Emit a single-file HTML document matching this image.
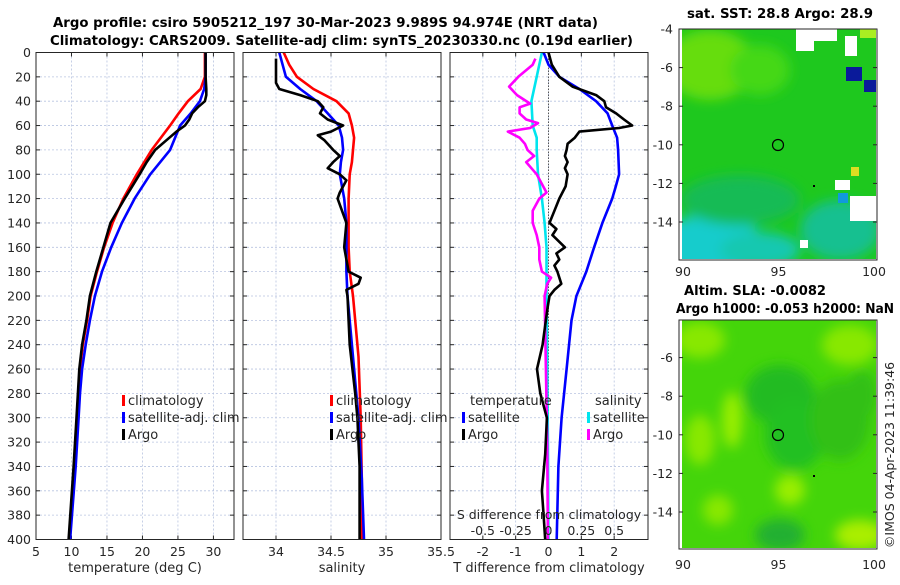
<!DOCTYPE html>
<html><head><meta charset="utf-8"><style>
body{margin:0;background:#fff;}
svg text{font-family:"DejaVu Sans","Liberation Sans",sans-serif;fill:#262626;}
</style></head><body>
<svg id="fig" width="900" height="580" viewBox="0 0 900 580" xmlns="http://www.w3.org/2000/svg">
<defs>
<filter id="blur6" x="-20%" y="-20%" width="140%" height="140%"><feGaussianBlur stdDeviation="6"/></filter>
<clipPath id="clipTop"><rect x="682" y="29" width="194" height="230"/></clipPath>
<clipPath id="clipBot"><rect x="682" y="320" width="194" height="228"/></clipPath>
</defs>
<g>
<text x="53" y="27" textLength="545" lengthAdjust="spacingAndGlyphs" font-size="13.5" font-weight="bold" style="fill:#000">Argo profile: csiro 5905212_197 30-Mar-2023 9.989S 94.974E (NRT data)</text>
<text x="50" y="45" textLength="583" lengthAdjust="spacingAndGlyphs" font-size="13.5" font-weight="bold" style="fill:#000">Climatology: CARS2009. Satellite-adj clim: synTS_20230330.nc (0.19d earlier)</text>
</g>
<g id="panels"></g>
<g>
<text x="687" y="18" textLength="186" lengthAdjust="spacingAndGlyphs" font-size="13" font-weight="bold" style="fill:#000">sat. SST: 28.8 Argo: 28.9</text>
<g clip-path="url(#clipTop)">
<rect x="682" y="29" width="194" height="230" fill="#1ec81e"/>
<g filter="url(#blur6)">
<ellipse cx="710" cy="65" rx="45" ry="35" fill="#66dd11"/>
<ellipse cx="760" cy="70" rx="30" ry="25" fill="#44d818"/>
<ellipse cx="710" cy="245" rx="55" ry="30" fill="#12cccc"/>
<ellipse cx="760" cy="250" rx="40" ry="18" fill="#14c8b0"/>
<ellipse cx="840" cy="230" rx="40" ry="30" fill="#18c090"/>
<ellipse cx="740" cy="200" rx="60" ry="25" fill="#18bb55"/>
</g>
<rect x="796" y="29" width="18" height="22" fill="#fff"/>
<rect x="812" y="29" width="25" height="12" fill="#fff"/>
<rect x="845" y="36" width="12" height="20" fill="#fff"/>
<rect x="860" y="29" width="16" height="9" fill="#aaee22"/>
<rect x="846" y="67" width="16" height="14" fill="#0a1a9a"/>
<rect x="864" y="80" width="12" height="12" fill="#0a1a9a"/>
<rect x="850" y="196" width="26" height="25" fill="#fff"/>
<rect x="835" y="180" width="15" height="10" fill="#fff"/>
<rect x="851" y="167" width="8" height="9" fill="#dddd22"/>
<rect x="838" y="193" width="10" height="10" fill="#1199dd"/>
<rect x="800" y="240" width="8" height="8" fill="#fff"/>
</g>
<rect x="679" y="29" width="198" height="231" fill="none" stroke="#262626" stroke-width="1"/>
<circle cx="778" cy="145" r="5.5" fill="none" stroke="#000" stroke-width="1.2"/>
<rect x="813" y="185" width="2" height="2" fill="#000"/>
</g>
<g>
<text x="684" y="295" textLength="142" lengthAdjust="spacingAndGlyphs" font-size="13" font-weight="bold" style="fill:#000">Altim. SLA: -0.0082</text>
<text x="676" y="313" textLength="218" lengthAdjust="spacingAndGlyphs" font-size="13" font-weight="bold" style="fill:#000">Argo h1000: -0.053 h2000: NaN</text>
<g clip-path="url(#clipBot)">
<rect x="682" y="320" width="194" height="228" fill="#44d50a"/>
<g filter="url(#blur6)">
<ellipse cx="700" cy="340" rx="25" ry="18" fill="#88e800"/>
<ellipse cx="850" cy="345" rx="28" ry="20" fill="#88e800"/>
<ellipse cx="700" cy="440" rx="15" ry="25" fill="#88e800"/>
<ellipse cx="732" cy="420" rx="10" ry="28" fill="#99ee00"/>
<ellipse cx="790" cy="490" rx="15" ry="15" fill="#99ee00"/>
<ellipse cx="718" cy="510" rx="15" ry="15" fill="#88e800"/>
<ellipse cx="860" cy="535" rx="25" ry="15" fill="#aaee00"/>
<ellipse cx="780" cy="395" rx="35" ry="30" fill="#22bb22"/>
<ellipse cx="795" cy="435" rx="30" ry="35" fill="#22c022"/>
<ellipse cx="840" cy="420" rx="30" ry="40" fill="#30c018"/>
<ellipse cx="780" cy="535" rx="25" ry="16" fill="#22b030"/>
<ellipse cx="862" cy="395" rx="15" ry="25" fill="#30c018"/>
</g>
</g>
<rect x="679" y="320" width="198" height="229" fill="none" stroke="#262626" stroke-width="1"/>
<circle cx="778" cy="435" r="5.5" fill="none" stroke="#000" stroke-width="1.2"/>
<rect x="813" y="475" width="2" height="2" fill="#000"/>
<text transform="translate(894,455) rotate(-90)" text-anchor="middle" font-size="12.5">©IMOS 04-Apr-2023 11:39:46</text>
</g>
<g id="maptick"></g>
</svg>
<script>
const depthTicks=[0,20,40,60,80,100,120,140,160,180,200,220,240,260,280,300,320,340,360,380,400];
const tTicks=[5,10,15,20,25,30];
const sTicks=[34,34.5,35,35.5];
const dTTicks=[-2,-1,0,1,2];
const dSTicks=[-0.5,-0.25,0,0.25,0.5];
const dSTickLabels=["-0.5","-0.25","0","0.25","0.5"];
const tClimDepth=[0,20,30,40,50,60,80,100,120,140,160,180,200,220,240,260,280,300,340,400];
const tClim=[28.8,28.8,28.2,26.4,25.1,23.9,21.3,19.2,17.3,15.8,14.6,13.6,12.7,12.2,11.6,11.2,11.0,10.9,10.5,9.7];
const tSat=[28.9,28.9,28.7,28.1,26.8,25.3,23.9,21.1,18.9,17.1,15.6,14.3,13.3,12.6,12.0,11.5,11.2,11.0,10.6,9.8];
const tArgoDepth=[0,20,30,35,40,45,50,55,60,65,70,80,90,100,120,140,160,180,200,220,240,260,280,300,340,400];
const tArgo=[28.9,28.9,29.0,29.0,28.8,27.8,27.0,26.6,26.0,24.8,23.8,21.8,20.6,19.6,17.5,15.5,14.5,13.5,12.6,12.1,11.5,11.1,10.9,10.7,10.3,9.6];
const sDepth=[0,10,20,30,40,50,60,70,80,90,100,120,140,160,180,200,250,300,350,400];
const sClim=[34.07,34.12,34.19,34.34,34.55,34.66,34.69,34.71,34.70,34.69,34.67,34.66,34.66,34.66,34.67,34.7,34.75,34.77,34.78,34.78];
const sSat=[34.03,34.06,34.09,34.22,34.37,34.47,34.57,34.6,34.61,34.59,34.58,34.62,34.64,34.64,34.64,34.65,34.7,34.75,34.78,34.8];
const sArgoDepth=[5,25,30,35,40,45,50,55,60,65,68,72,80,85,90,95,100,105,115,120,140,160,180,185,190,195,200,240,280,300,340,400];
const sArgo=[34.0,34.0,34.03,34.22,34.38,34.43,34.4,34.47,34.61,34.5,34.38,34.44,34.52,34.58,34.52,34.47,34.58,34.64,34.58,34.56,34.64,34.62,34.66,34.77,34.75,34.64,34.65,34.67,34.72,34.74,34.76,34.76];
const dTSatDepth=[0,10,20,30,40,50,60,70,80,100,110,120,140,160,180,200,220,260,300,340,400];
const dTSat=[-0.15,0,0.33,0.94,1.45,1.8,1.94,2.09,2.12,2.15,2.05,1.94,1.64,1.39,1.15,0.85,0.7,0.55,0.4,0.3,0.25];
const dTArgoDepth=[0,10,20,28,35,40,45,50,55,60,62,65,70,75,80,85,90,95,100,110,120,130,140,145,150,160,165,170,175,180,190,195,200,210,240,260,280,300,330,360,380,400];
const dTArgo=[0,0.1,0.33,0.73,1.45,1.7,1.75,2.06,2.3,2.55,2.15,0.94,0.8,0.58,0.55,0.5,0.58,0.5,0.58,0.52,0.33,0.18,0.03,0.24,0.12,0.5,0.24,0.33,0.18,0.27,0.39,0.18,0.03,-0.03,-0.18,-0.35,-0.25,-0.05,-0.1,-0.2,-0.15,-0.1];
const dSSatDepth=[0,20,40,60,70,80,100,120,140,160,180,200,260,320,400];
const dSSat=[-0.05,-0.09,-0.13,-0.12,-0.09,-0.09,-0.08,-0.05,-0.03,-0.015,-0.015,-0.015,-0.01,-0.005,0];
const dSArgoDepth=[5,10,20,28,35,42,45,50,55,58,62,65,70,75,80,85,90,95,100,108,115,120,130,140,150,160,170,180,185,190,200,260,320,400];
const dSArgo=[-0.1,-0.12,-0.23,-0.3,-0.24,-0.14,-0.22,-0.22,-0.17,-0.08,-0.14,-0.31,-0.22,-0.18,-0.16,-0.11,-0.17,-0.13,-0.09,-0.05,-0.015,-0.07,-0.12,-0.12,-0.09,-0.07,-0.07,-0.05,0.02,-0.01,-0.03,-0.02,-0.01,-0.005];
const lonTicks=[90,95,100];
const latTicksTop=[-4,-6,-8,-10,-12,-14];
const latTicksBot=[-6,-8,-10,-12,-14];

const NS="http://www.w3.org/2000/svg";
const Y0=52.5,Y1=539.5;
function yD(d){return Y0+(d/400)*(Y1-Y0);}
function mk(tag,attrs,parent){const e=document.createElementNS(NS,tag);for(const k in attrs)e.setAttribute(k,attrs[k]);parent.appendChild(e);return e;}
const root=document.getElementById('panels');
const panels=[
 {x0:36,x1:234,min:5,max:32.9,ticks:tTicks,labels:tTicks.map(String),name:'temperature-panel',xl:'temperature (deg C)'},
 {x0:243,x1:441,min:33.7,max:35.5,ticks:sTicks,labels:["34","34.5","35","35.5"],name:'salinity-panel',xl:'salinity'},
 {x0:450,x1:648,min:-3,max:3.03,ticks:dTTicks,labels:dTTicks.map(String),name:'difference-panel',xl:'T difference from climatology'}
];
function xF(p,v){return p.x0+(v-p.min)/(p.max-p.min)*(p.x1-p.x0);}
panels.forEach((p,i)=>{
 const g=mk('g',{},root);
 
 
 depthTicks.forEach(d=>{
  const l=mk('line',{x1:p.x0,x2:p.x1,y1:yD(d),y2:yD(d),stroke:'#b8c4e0','stroke-width':0.8,'stroke-dasharray':'2,2'},g);
  
  
  mk('line',{x1:p.x0,x2:p.x0+4,y1:yD(d),y2:yD(d),stroke:'#262626'},g);
  mk('line',{x1:p.x1-4,x2:p.x1,y1:yD(d),y2:yD(d),stroke:'#262626'},g);
  if(i===0){const t=mk('text',{x:p.x0-5,y:yD(d)+4.5,'text-anchor':'end','font-size':12.5},g);t.textContent=String(d);
   
   }
 });
 p.ticks.forEach((v,k)=>{
  const x=xF(p,v);
  mk('line',{x1:x,x2:x,y1:Y0,y2:Y1,stroke:'#b8c4e0','stroke-width':0.8,'stroke-dasharray':'2,2'},g);
  mk('line',{x1:x,x2:x,y1:Y1,y2:Y1-4,stroke:'#262626'},g);
  mk('line',{x1:x,x2:x,y1:Y0,y2:Y0+4,stroke:'#262626'},g);
  const t=mk('text',{x:x,y:556,'text-anchor':'middle','font-size':12.5},g);t.textContent=p.labels[k];
  
  
 });
 const xt=mk('text',{x:(p.x0+p.x1)/2,y:572,'text-anchor':'middle','font-size':13},g);xt.textContent=p.xl;
 
 
 p.g=g;
});
function line(p,xs,ds,color,name,sc){
 let pts=xs.map((v,k)=>xF(p,v*(sc||1)).toFixed(1)+','+yD(ds[k]).toFixed(1)).join(' ');
 const e=mk('polyline',{points:pts,fill:'none',stroke:color,'stroke-width':2.6,'stroke-linejoin':'round'},p.g);
 
 
}
const P=panels;
line(P[0],tClim,tClimDepth,'#ff0000','temp-climatology-line');
line(P[0],tSat,tClimDepth,'#0000ff','temp-satellite-line');
line(P[0],tArgo,tArgoDepth,'#000','temp-argo-line');
line(P[1],sClim,sDepth,'#ff0000','sal-climatology-line');
line(P[1],sSat,sDepth,'#0000ff','sal-satellite-line');
line(P[1],sArgo,sArgoDepth,'#000','sal-argo-line');
const z=mk('line',{x1:xF(P[2],0),x2:xF(P[2],0),y1:Y0,y2:Y1,stroke:'#555','stroke-width':1,'stroke-dasharray':'1.5,1.5'},P[2].g);


line(P[2],dSSat,dSSatDepth,'#00e5ee','sal-diff-satellite-line',4);
line(P[2],dSArgo,dSArgoDepth,'#ff00ff','sal-diff-argo-line',4);
line(P[2],dTSat,dTSatDepth,'#0000ff','temp-diff-satellite-line');
line(P[2],dTArgo,dTArgoDepth,'#000','temp-diff-argo-line');
const ts=mk('text',{x:549,y:519,'text-anchor':'middle','font-size':12.5},P[2].g);ts.textContent='S difference from climatology';


dSTicks.forEach((v,k)=>{const t=mk('text',{x:xF(P[2],v*4),y:535,'text-anchor':'middle','font-size':12.5},P[2].g);t.textContent=dSTickLabels[k];
 
 });
P.forEach(p=>{mk('rect',{x:p.x0,y:Y0,width:p.x1-p.x0,height:Y1-Y0,fill:'none',stroke:'#262626','stroke-width':1},p.g);});
function legend(parent,x,y,color,label){
 const g=mk('g',{},parent);
 
 
 mk('rect',{x:x,y:y-10,width:3,height:11,fill:color},g);
 const t=mk('text',{x:x+6,y:y,'font-size':13},g);t.textContent=label;
}
[[P[0],122],[P[1],330]].forEach(([p,x])=>{
 legend(p.g,x,405,'#ff0000','climatology');
 legend(p.g,x,422,'#0000ff','satellite-adj. clim');
 legend(p.g,x,439,'#000','Argo');
});
const tl=mk('text',{x:470,y:405,'font-size':13},P[2].g);tl.textContent='temperature';


const sl=mk('text',{x:595,y:405,'font-size':13},P[2].g);sl.textContent='salinity';


legend(P[2].g,462,422,'#0000ff','satellite');
legend(P[2].g,462,439,'#000','Argo');
legend(P[2].g,587,422,'#00e5ee','satellite');
legend(P[2].g,587,439,'#ff00ff','Argo');
const mt=document.getElementById('maptick');
function lonX(v){return 683+(v-90)*19.1;}
function latYTop(v){return 29+(-4-v)*19.3;}
function latYBot(v){return 319+(-4-v)*19.3;}
[[latTicksTop,latYTop,272],[latTicksBot,latYBot,565]].forEach(([lt,fy,ly])=>{
 lt.forEach(v=>{const y=fy(v);
  mk('line',{x1:679,x2:683,y1:y,y2:y,stroke:'#262626'},mt);
  mk('line',{x1:873,x2:877,y1:y,y2:y,stroke:'#262626'},mt);
  const t=mk('text',{x:673,y:y+4.5,'text-anchor':'end','font-size':12.5},mt);t.textContent=String(v);
  
  });
 lonTicks.forEach(v=>{const t=mk('text',{x:lonX(v),y:ly+4,'text-anchor':'middle','font-size':12.5},mt);t.textContent=String(v);
  
  });
});
</script>
</body></html>
